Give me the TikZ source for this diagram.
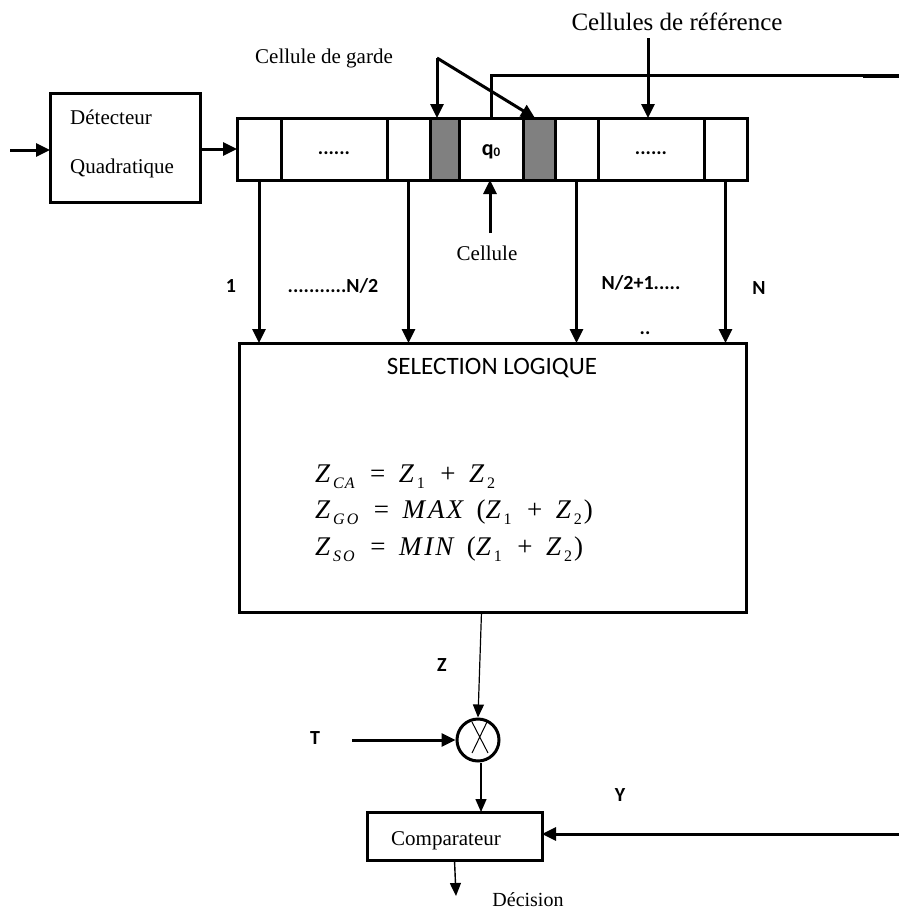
\documentclass[tikz,border=0pt]{standalone}
\usepackage{fontspec}
\setmainfont{Liberation Serif}[ItalicFont={Liberation Serif Italic}]
\newfontfamily\calib{Carlito}[BoldFont={Carlito Bold}]
\newfontfamily\eqfont{Liberation Serif Italic}
\usetikzlibrary{positioning,arrows.meta}
\tikzset{
  blk/.style={draw,line width=3pt,inner sep=0pt,outer sep=0pt},
  cell/.style={draw,line width=3pt,minimum height=62pt,inner sep=0pt,outer sep=0pt},
  arr/.style={line width=3pt,-{Triangle[length=14pt 0,width=13pt 0]}},
  tarr/.style={line width=1.4pt,-{Triangle[length=13pt 0,width=11pt 0]}},
  lab/.style={font=\calib\bfseries\fontsize{20}{24}\selectfont,inner sep=0pt},
  txt/.style={font=\fontsize{21}{25}\selectfont,inner sep=0pt},
  eqn/.style={anchor=base west,inner sep=0pt,font=\eqfont\fontsize{27}{30}\selectfont},
}
\newcommand\zsub[1]{Z\kern3pt\raisebox{-6pt}{\fontsize{16}{16}\selectfont #1}\kern2pt}
\newcommand\up[1]{{\rmfamily\upshape #1}}

\begin{document}
\begin{tikzpicture}[x=1pt,y=-1pt]
  \useasboundingbox (0,0) rectangle (899,911);
  % detecteur
  \node[blk,minimum width=150pt,minimum height=109pt] (det) at (125,147.5) {};
  \node[txt,anchor=base west] (det1) at (70,124) {Détecteur};
  \node[txt,anchor=base west] (det2) at (70,173) {Quadratique};
  \coordinate (in) at (10,150);
  \draw[arr] (in) -- (in -| det.west);
  % registre
  \foreach \l/\r/\n/\f in {237/281/c1/white,281/387/c2/white,387/430/c3/white,
      430/459/c4/black!50,459/523/c5/white,523/555/c6/black!50,555/598/c7/white,
      598/704/c8/white,704/747/c9/white}
    \node[cell,fill=\f,minimum width={\r pt-\l pt}] (\n) at ({(\l+\r)/2},149) {};
  \node[lab,anchor=base] (d1) at ([yshift=-5pt]c2.center) {......};
  \node[lab,anchor=base] (d2) at ([yshift=-5pt]c8.center) {......};
  \node[lab,anchor=base,font=\calib\bfseries\fontsize{22}{24}\selectfont] (q0) at ([yshift=-6pt]c5.center)
    {q\raisebox{-1pt}{\fontsize{13}{13}\selectfont 0}};
  \draw[arr] (det.east |- c1.west) -- (c1.west);
  % cellules de garde
  \node[txt,anchor=base] (garde) at (324,63) {Cellule de garde};
  \coordinate (gapex) at (437,58);
  \draw[arr] (gapex) -- (gapex |- c4.north);
  \draw[arr] (gapex) -- ([xshift=-4pt]c6.north);
  % cellule sous test
  \coordinate (qr) at (863,75);
  \draw[line width=3pt] (c5.north) -- (c5.north |- qr) -- (qr);
  \draw[line width=4.5pt] ([yshift=-1pt]qr) -- (899,76);
  \node[txt,anchor=base,font=\fontsize{25}{29}\selectfont] (ref) at (677,30) {Cellules de référence};
  \coordinate (reft) at (648,38);
  \draw[arr] (reft) -- (reft |- c8.north);
  \node[txt,anchor=base] (cellule) at (487,260) {Cellule};
  \coordinate (celt) at (490,233);
  \draw[arr] (celt) -- (celt |- c5.south);
  % selection logique
  \node[blk,minimum width=507pt,minimum height=269pt] (sel) at (492.5,477.5) {};
  \node[inner sep=0pt,font=\calib\fontsize{25}{29}\selectfont] (seltitle) at (492,368) {SELECTION LOGIQUE};
  \foreach \c in {c1,c3,c7,c9}
    \draw[arr] (\c.south) -- (\c.south |- sel.north);
  \node[lab] (l1) at (231,286) {1};
  \node[lab] (l2) at (333,286) {...........N/2};
  \node[lab] (l3) at (641,283) {N/2+1.....};
  \node[lab] (l4) at (759,288) {N};
  \node[lab,anchor=base] (l5) at (645,334) {..};
  \node[eqn] (e1) at (315,482) {\zsub{C\kern1pt A}\enspace\up{=}\enspace\zsub{\up{1}}\enspace\up{+}\enspace\zsub{\up{2}}};
  \node[eqn] (e2) at (315,518) {\zsub{G\kern2pt O}\enspace\up{=}\enspace M\kern3pt A\kern2pt X\enspace\up{(}\zsub{\up{1}}\enspace\up{+}\enspace\zsub{\up{2}}\up{)}};
  \node[eqn] (e3) at (315,555) {\zsub{S\kern2pt O}\enspace\up{=}\enspace M\kern3pt I\kern2pt N\enspace\up{(}\zsub{\up{1}}\enspace\up{+}\enspace\zsub{\up{2}}\up{)}};
  % multiplieur et comparateur
  \node[draw,circle,line width=3pt,minimum size=42pt,inner sep=0pt] (mul) at (478,740) {};
  \draw[line width=1pt] ([shift={(-6,-18)}]mul.center) -- ([shift={(10,13)}]mul.center)
    ([shift={(9,-18)}]mul.center) -- ([shift={(-6,13)}]mul.center);
  \draw[tarr,line width=1.2pt] ([xshift=-11pt]sel.south) -- (mul.north);
  \node[lab] (zlab) at (442,665) {Z};
  \node[lab] (tlab) at (315,738) {T};
  \coordinate (tin) at (352,740);
  \draw[arr] (tin) -- (mul.west);
  \node[blk,minimum width=175pt,minimum height=48pt] (comp) at (454.5,836) {};
  \node[txt,anchor=base] (comptxt) at (446,845) {Comparateur};
  \draw[tarr] ([xshift=3pt]mul.south) -- ([xshift=3pt]mul.south |- comp.north);
  \coordinate (yin) at (899,834);
  \node[lab] (ylab) at (620,795) {Y};
  \draw[arr] (yin) -- (yin -| comp.east);
  \coordinate (dec) at (456,896);
  \draw[tarr] (comp.south) -- (dec);
  \node[txt,anchor=base,font=\fontsize{20}{24}\selectfont] (declab) at (528,906) {Décision};
\end{tikzpicture}
\end{document}
